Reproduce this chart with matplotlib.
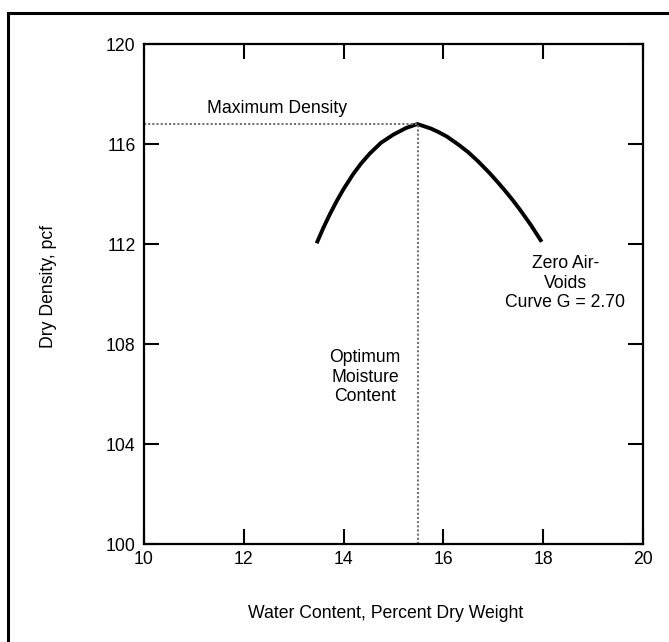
"""
Compaction curve: dry density vs water content.
"""

import matplotlib

matplotlib.use("Agg")
import matplotlib.pyplot as plt
from matplotlib.lines import Line2D

plt.rcParams["font.family"] = ["Liberation Sans", "DejaVu Sans"]

# curve points
water_content = [13.46, 13.6, 13.73, 13.86, 14.0, 14.19, 14.35, 14.53, 14.75,
                 15.0, 15.25, 15.48, 15.75, 15.9, 16.07, 16.3, 16.5, 16.7,
                 16.93, 17.1, 17.25, 17.4, 17.54, 17.75, 17.97]
dry_density = [112.03, 112.67, 113.21, 113.71, 114.2, 114.79, 115.22, 115.63,
               116.05, 116.38, 116.64, 116.8, 116.62, 116.48, 116.3, 115.98,
               115.67, 115.3, 114.83, 114.45, 114.1, 113.73, 113.36, 112.77,
               112.09]

optimum_water = 15.5
max_density = 116.8

x_ticks = [10, 12, 14, 16, 18, 20]
y_ticks = [100, 104, 108, 112, 116, 120]

fig = plt.figure(figsize=(6.69, 6.42), dpi=100)
ax = fig.add_axes([0.2152, 0.1526, 0.7459, 0.7788])

# outer border (only left and top edges fall inside the picture)
fig.add_artist(Line2D([8 / 669, 8 / 669], [0, 1 - 13 / 642],
                      transform=fig.transFigure, color="black", linewidth=2.2))
fig.add_artist(Line2D([8 / 669, 1], [1 - 13 / 642, 1 - 13 / 642],
                      transform=fig.transFigure, color="black", linewidth=2.2))

ax.plot(water_content, dry_density, color="black", linewidth=2.8,
        solid_capstyle="butt", solid_joinstyle="round")

ax.plot([10, optimum_water], [max_density, max_density],
        color="0.45", linewidth=1.5, linestyle=(0, (1, 1)))
ax.plot([optimum_water, optimum_water], [100, max_density],
        color="0.45", linewidth=1.5, linestyle=(0, (1, 1)))

ax.text(11.26, 117.44, "Maximum Density", fontsize=12.7, ha="left", va="center")
ax.text(14.43, 106.68, "Optimum\nMoisture\nContent", fontsize=12.7,
        ha="center", va="center", linespacing=1.2)
ax.text(18.44, 110.44, "Zero Air-\nVoids\nCurve G = 2.70", fontsize=12.7,
        ha="center", va="center", linespacing=1.2)

ax.set_xlim(10, 20)
ax.set_ylim(100, 120)
ax.set_xticks(x_ticks)
ax.set_yticks(y_ticks)

ax.tick_params(direction="in", length=11, width=1.5, labelsize=12.7,
               top=True, right=True, labeltop=False, labelright=False)
ax.tick_params(axis="x", pad=5)
ax.tick_params(axis="y", pad=6)

for spine in ax.spines.values():
    spine.set_linewidth(1.6)

ax.set_xlabel("Water Content, Percent Dry Weight", fontsize=12.7)
ax.set_ylabel("Dry Density, pcf", fontsize=12.7)
ax.xaxis.set_label_coords(0.485, -0.138)
ax.xaxis.label.set_va("center")
ax.yaxis.set_label_coords(-0.192, 0.516)
ax.yaxis.label.set_va("center")

fig.savefig("out.png", dpi=100)
plt.close(fig)
